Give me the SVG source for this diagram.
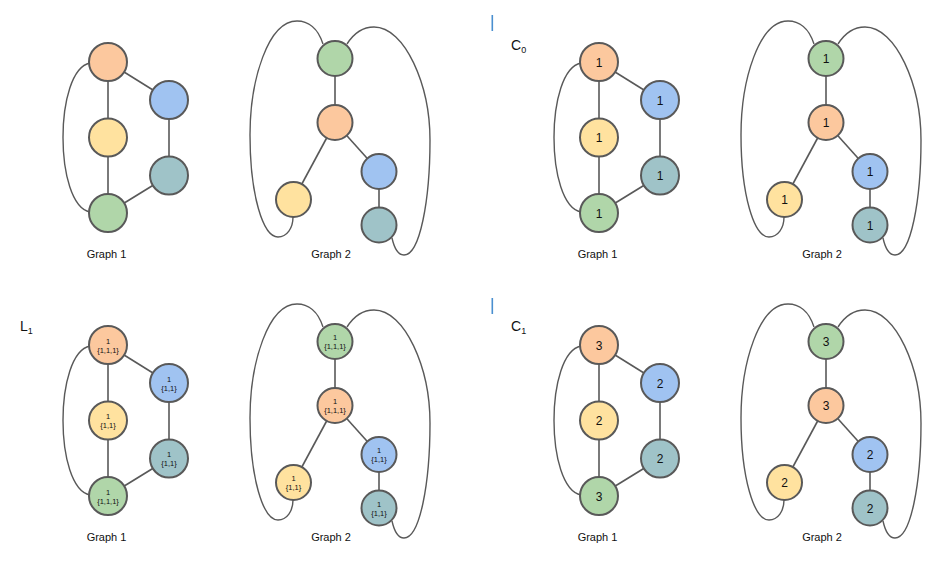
<svg xmlns="http://www.w3.org/2000/svg" width="945" height="570" viewBox="0 0 945 570">
<style>
.n{stroke:#595959;stroke-width:2}
.or{fill:#fcc89e}.bl{fill:#a0c3f1}.ye{fill:#ffe29f}.te{fill:#9fc3c8}.gr{fill:#b0d6a9}
.e{stroke:#595959;stroke-width:1.6;fill:none}
.a{stroke:#595959;stroke-width:1.4;fill:none}
text{font-family:"Liberation Sans",Arial,sans-serif;fill:#111}
.lbl{font-size:11px;text-anchor:middle}
.t{font-size:12px;text-anchor:middle}
.s{font-size:7.5px;text-anchor:middle}
.h{font-size:14px}
.sub{font-size:9px}
</style>
<defs>
<g id="edges1">
<line class="e" x1="108" y1="62" x2="108" y2="213"/>
<line class="e" x1="108" y1="62" x2="169" y2="100"/>
<line class="e" x1="169" y1="100" x2="169" y2="175.5"/>
<line class="e" x1="169" y1="175.5" x2="108" y2="213"/>
<path class="a" d="M90,63 C54,70 54,205 90,212"/>
<line class="e" x1="335" y1="58.5" x2="335" y2="122.5"/>
<line class="e" x1="335" y1="122.5" x2="379" y2="171.5"/>
<line class="e" x1="335" y1="122.5" x2="293.5" y2="199.5"/>
<line class="e" x1="379" y1="171.5" x2="379" y2="225"/>
<path class="a" d="M323,44 C318,28 308,21 297,21 C268,21 250,80 250,135 C250,195 263,237 278,237 C287,237 293,228 293,217"/>
<path class="a" d="M347,44 C354,33 364,27 374,27 C405,27 430,85 430,140 C430,200 420,255 404,255 C397,255 394,247 392,238"/>
</g>
</defs>

<!-- Top-left: plain graphs -->
<g id="q1">
<g id="q1-connectors"><use href="#edges1"/></g>
<g id="q1-g1-orange"><circle class="n or" cx="108" cy="62" r="19"/></g>
<g id="q1-g1-blue"><circle class="n bl" cx="169" cy="100" r="19"/></g>
<g id="q1-g1-yellow"><circle class="n ye" cx="108" cy="137.5" r="19"/></g>
<g id="q1-g1-teal"><circle class="n te" cx="169" cy="175.5" r="19"/></g>
<g id="q1-g1-green"><circle class="n gr" cx="108" cy="213" r="19"/></g>
<g id="q1-g2-green"><circle class="n gr" cx="335" cy="58.5" r="17.5"/></g>
<g id="q1-g2-orange"><circle class="n or" cx="335" cy="122.5" r="17.5"/></g>
<g id="q1-g2-blue"><circle class="n bl" cx="379" cy="171.5" r="17.5"/></g>
<g id="q1-g2-yellow"><circle class="n ye" cx="293.5" cy="199.5" r="17.5"/></g>
<g id="q1-g2-teal"><circle class="n te" cx="379" cy="225" r="17.5"/></g>
<text class="lbl" x="106.5" y="258">Graph 1</text>
<text class="lbl" x="331" y="258">Graph 2</text>
</g>

<!-- Top-right: C0 -->
<g id="q2" transform="translate(491,0)">
<rect x="0.5" y="15" width="1.6" height="16" fill="#4a8fd0"/>
<text class="h" x="20" y="50">C<tspan class="sub" dy="3">0</tspan></text>
<g id="q2-connectors"><use href="#edges1"/></g>
<g id="q2-g1-orange"><circle class="n or" cx="108" cy="62" r="19"/><text class="t" x="108" y="66.5">1</text></g>
<g id="q2-g1-blue"><circle class="n bl" cx="169" cy="100" r="19"/><text class="t" x="169" y="104.5">1</text></g>
<g id="q2-g1-yellow"><circle class="n ye" cx="108" cy="137.5" r="19"/><text class="t" x="108" y="142">1</text></g>
<g id="q2-g1-teal"><circle class="n te" cx="169" cy="175.5" r="19"/><text class="t" x="169" y="180">1</text></g>
<g id="q2-g1-green"><circle class="n gr" cx="108" cy="213" r="19"/><text class="t" x="108" y="217.5">1</text></g>
<g id="q2-g2-green"><circle class="n gr" cx="335" cy="58.5" r="17.5"/><text class="t" x="335" y="63">1</text></g>
<g id="q2-g2-orange"><circle class="n or" cx="335" cy="122.5" r="17.5"/><text class="t" x="335" y="127">1</text></g>
<g id="q2-g2-blue"><circle class="n bl" cx="379" cy="171.5" r="17.5"/><text class="t" x="379" y="176">1</text></g>
<g id="q2-g2-yellow"><circle class="n ye" cx="293.5" cy="199.5" r="17.5"/><text class="t" x="293.5" y="204">1</text></g>
<g id="q2-g2-teal"><circle class="n te" cx="379" cy="225" r="17.5"/><text class="t" x="379" y="229.5">1</text></g>
<text class="lbl" x="106.5" y="258">Graph 1</text>
<text class="lbl" x="331" y="258">Graph 2</text>
</g>

<!-- Bottom-left: L1 -->
<g id="q3" transform="translate(0,283)">
<text class="h" x="20" y="48">L<tspan class="sub" dy="3">1</tspan></text>
<g id="q3-connectors"><use href="#edges1"/></g>
<g id="q3-g1-orange"><circle class="n or" cx="108" cy="62" r="19"/><text class="s" x="108" y="60.5">1</text><text class="s" x="108" y="69.5">{1,1,1}</text></g>
<g id="q3-g1-blue"><circle class="n bl" cx="169" cy="100" r="19"/><text class="s" x="169" y="98.5">1</text><text class="s" x="169" y="107.5">{1,1}</text></g>
<g id="q3-g1-yellow"><circle class="n ye" cx="108" cy="137.5" r="19"/><text class="s" x="108" y="136">1</text><text class="s" x="108" y="145">{1,1}</text></g>
<g id="q3-g1-teal"><circle class="n te" cx="169" cy="175.5" r="19"/><text class="s" x="169" y="174">1</text><text class="s" x="169" y="183">{1,1}</text></g>
<g id="q3-g1-green"><circle class="n gr" cx="108" cy="213" r="19"/><text class="s" x="108" y="211.5">1</text><text class="s" x="108" y="220.5">{1,1,1}</text></g>
<g id="q3-g2-green"><circle class="n gr" cx="335" cy="58.5" r="17.5"/><text class="s" x="335" y="57">1</text><text class="s" x="335" y="66">{1,1,1}</text></g>
<g id="q3-g2-orange"><circle class="n or" cx="335" cy="122.5" r="17.5"/><text class="s" x="335" y="121">1</text><text class="s" x="335" y="130">{1,1,1}</text></g>
<g id="q3-g2-blue"><circle class="n bl" cx="379" cy="171.5" r="17.5"/><text class="s" x="379" y="170">1</text><text class="s" x="379" y="179">{1,1}</text></g>
<g id="q3-g2-yellow"><circle class="n ye" cx="293.5" cy="199.5" r="17.5"/><text class="s" x="293.5" y="198">1</text><text class="s" x="293.5" y="207">{1,1}</text></g>
<g id="q3-g2-teal"><circle class="n te" cx="379" cy="225" r="17.5"/><text class="s" x="379" y="223.5">1</text><text class="s" x="379" y="232.5">{1,1}</text></g>
<text class="lbl" x="106.5" y="258">Graph 1</text>
<text class="lbl" x="331" y="258">Graph 2</text>
</g>

<!-- Bottom-right: C1 -->
<g id="q4" transform="translate(491,283)">
<rect x="0.5" y="15" width="1.6" height="16" fill="#4a8fd0"/>
<text class="h" x="20" y="48">C<tspan class="sub" dy="3">1</tspan></text>
<g id="q4-connectors"><use href="#edges1"/></g>
<g id="q4-g1-orange"><circle class="n or" cx="108" cy="62" r="19"/><text class="t" x="108" y="66.5">3</text></g>
<g id="q4-g1-blue"><circle class="n bl" cx="169" cy="100" r="19"/><text class="t" x="169" y="104.5">2</text></g>
<g id="q4-g1-yellow"><circle class="n ye" cx="108" cy="137.5" r="19"/><text class="t" x="108" y="142">2</text></g>
<g id="q4-g1-teal"><circle class="n te" cx="169" cy="175.5" r="19"/><text class="t" x="169" y="180">2</text></g>
<g id="q4-g1-green"><circle class="n gr" cx="108" cy="213" r="19"/><text class="t" x="108" y="217.5">3</text></g>
<g id="q4-g2-green"><circle class="n gr" cx="335" cy="58.5" r="17.5"/><text class="t" x="335" y="63">3</text></g>
<g id="q4-g2-orange"><circle class="n or" cx="335" cy="122.5" r="17.5"/><text class="t" x="335" y="127">3</text></g>
<g id="q4-g2-blue"><circle class="n bl" cx="379" cy="171.5" r="17.5"/><text class="t" x="379" y="176">2</text></g>
<g id="q4-g2-yellow"><circle class="n ye" cx="293.5" cy="199.5" r="17.5"/><text class="t" x="293.5" y="204">2</text></g>
<g id="q4-g2-teal"><circle class="n te" cx="379" cy="225" r="17.5"/><text class="t" x="379" y="229.5">2</text></g>
<text class="lbl" x="106.5" y="258">Graph 1</text>
<text class="lbl" x="331" y="258">Graph 2</text>
</g>
</svg>
